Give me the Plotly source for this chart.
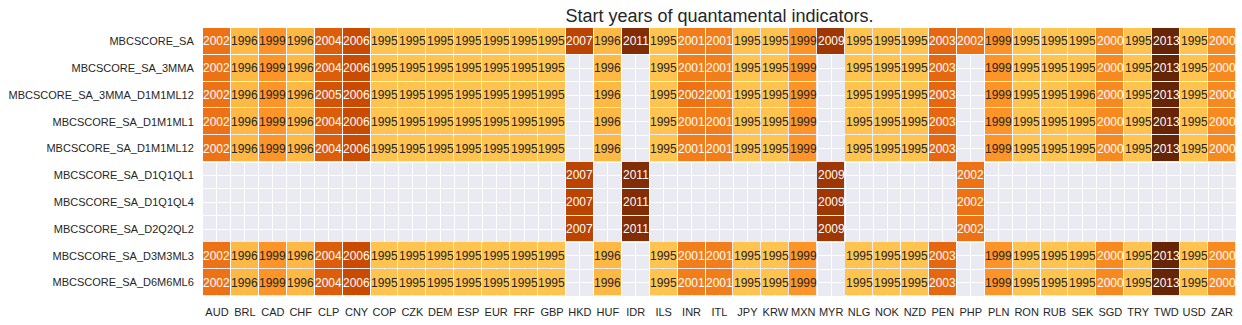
import plotly.graph_objects as go

currencies = ["AUD", "BRL", "CAD", "CHF", "CLP", "CNY", "COP", "CZK", "DEM", "ESP", "EUR", "FRF", "GBP",
              "HKD", "HUF", "IDR", "ILS", "INR", "ITL", "JPY", "KRW", "MXN", "MYR", "NLG", "NOK", "NZD",
              "PEN", "PHP", "PLN", "RON", "RUB", "SEK", "SGD", "TRY", "TWD", "USD", "ZAR"]

indicators = ["MBCSCORE_SA", "MBCSCORE_SA_3MMA", "MBCSCORE_SA_3MMA_D1M1ML12", "MBCSCORE_SA_D1M1ML1",
              "MBCSCORE_SA_D1M1ML12", "MBCSCORE_SA_D1Q1QL1", "MBCSCORE_SA_D1Q1QL4", "MBCSCORE_SA_D2Q2QL2",
              "MBCSCORE_SA_D3M3ML3", "MBCSCORE_SA_D6M6ML6"]

N = None
mbcscore_sa = [2002, 1996, 1999, 1996, 2004, 2006, 1995, 1995, 1995, 1995, 1995, 1995, 1995,
               2007, 1996, 2011, 1995, 2001, 2001, 1995, 1995, 1999, 2009, 1995, 1995, 1995,
               2003, 2002, 1999, 1995, 1995, 1995, 2000, 1995, 2013, 1995, 2000]
mbcscore_sa_3mma = [2002, 1996, 1999, 1996, 2004, 2006, 1995, 1995, 1995, 1995, 1995, 1995, 1995,
                    N, 1996, N, 1995, 2001, 2001, 1995, 1995, 1999, N, 1995, 1995, 1995,
                    2003, N, 1999, 1995, 1995, 1995, 2000, 1995, 2013, 1995, 2000]
mbcscore_sa_3mma_d1m1ml12 = [2002, 1996, 1999, 1996, 2005, 2006, 1995, 1995, 1995, 1995, 1995, 1995, 1995,
                             N, 1996, N, 1995, 2002, 2001, 1995, 1995, 1999, N, 1995, 1995, 1995,
                             2003, N, 1999, 1995, 1995, 1996, 2000, 1995, 2013, 1995, 2000]
mbcscore_sa_d1m1ml1 = [2002, 1996, 1999, 1996, 2004, 2006, 1995, 1995, 1995, 1995, 1995, 1995, 1995,
                       N, 1996, N, 1995, 2001, 2001, 1995, 1995, 1999, N, 1995, 1995, 1995,
                       2003, N, 1999, 1995, 1995, 1995, 2000, 1995, 2013, 1995, 2000]
mbcscore_sa_d1m1ml12 = [2002, 1996, 1999, 1996, 2004, 2006, 1995, 1995, 1995, 1995, 1995, 1995, 1995,
                        N, 1996, N, 1995, 2001, 2001, 1995, 1995, 1999, N, 1995, 1995, 1995,
                        2003, N, 1999, 1995, 1995, 1995, 2000, 1995, 2013, 1995, 2000]
mbcscore_sa_d1q1ql1 = [N, N, N, N, N, N, N, N, N, N, N, N, N,
                       2007, N, 2011, N, N, N, N, N, N, 2009, N, N, N,
                       N, 2002, N, N, N, N, N, N, N, N, N]
mbcscore_sa_d1q1ql4 = [N, N, N, N, N, N, N, N, N, N, N, N, N,
                       2007, N, 2011, N, N, N, N, N, N, 2009, N, N, N,
                       N, 2002, N, N, N, N, N, N, N, N, N]
mbcscore_sa_d2q2ql2 = [N, N, N, N, N, N, N, N, N, N, N, N, N,
                       2007, N, 2011, N, N, N, N, N, N, 2009, N, N, N,
                       N, 2002, N, N, N, N, N, N, N, N, N]
mbcscore_sa_d3m3ml3 = [2002, 1996, 1999, 1996, 2004, 2006, 1995, 1995, 1995, 1995, 1995, 1995, 1995,
                       N, 1996, N, 1995, 2001, 2001, 1995, 1995, 1999, N, 1995, 1995, 1995,
                       2003, N, 1999, 1995, 1995, 1995, 2000, 1995, 2013, 1995, 2000]
mbcscore_sa_d6m6ml6 = [2002, 1996, 1999, 1996, 2004, 2006, 1995, 1995, 1995, 1995, 1995, 1995, 1995,
                       N, 1996, N, 1995, 2001, 2001, 1995, 1995, 1999, N, 1995, 1995, 1995,
                       2003, N, 1999, 1995, 1995, 1995, 2000, 1995, 2013, 1995, 2000]

z = [mbcscore_sa, mbcscore_sa_3mma, mbcscore_sa_3mma_d1m1ml12, mbcscore_sa_d1m1ml1, mbcscore_sa_d1m1ml12,
     mbcscore_sa_d1q1ql1, mbcscore_sa_d1q1ql4, mbcscore_sa_d2q2ql2, mbcscore_sa_d3m3ml3, mbcscore_sa_d6m6ml6]

ylorbr = ["#ffffe5", "#fff7bc", "#fee391", "#fec44f", "#fe9929", "#ec7014", "#cc4c02", "#993404", "#662506"]
colorscale = [[i / (len(ylorbr) - 1), c] for i, c in enumerate(ylorbr)]
color_min, color_max = 1984.2, 2013

xs = list(range(len(currencies)))
ys = list(range(len(indicators)))

fig = go.Figure(go.Heatmap(
    z=z, x=xs, y=ys, colorscale=colorscale, zmin=color_min, zmax=color_max,
    showscale=False, xgap=1, ygap=1, hoverongaps=False,
))

font_family = "Liberation Sans, Arial, sans-serif"
annotations = []
for i, row in enumerate(z):
    for j, v in enumerate(row):
        if v is None:
            continue
        annotations.append(dict(
            x=j, y=i, xref="x", yref="y", text=str(v), showarrow=False,
            font=dict(size=12, family=font_family, color="#ffffff" if v >= 2000 else "#262626"),
        ))

fig.update_layout(
    width=1242, height=325,
    margin=dict(l=203, r=6, t=28, b=29),
    paper_bgcolor="white", plot_bgcolor="#EAEAF2",
    font=dict(family=font_family, color="#262626", size=11),
    title=dict(text="Start years of quantamental indicators.", x=(203 + 1236) / 2 / 1242, xanchor="center",
               y=1 - 16 / 325, yanchor="middle", font=dict(size=18, color="#262626")),
    annotations=annotations,
)
fig.update_xaxes(
    tickmode="array", tickvals=xs, ticktext=currencies, range=[-0.5, len(currencies) - 0.5],
    showgrid=True, gridcolor="white", gridwidth=1, zeroline=False, showline=False,
    ticks="outside", ticklen=6, tickcolor="rgba(0,0,0,0)",
    minor=dict(tickmode="linear", tick0=-0.5, dtick=1, showgrid=True, gridcolor="white", gridwidth=1, ticks=""),
    tickfont=dict(size=11),
)
fig.update_yaxes(
    tickmode="array", tickvals=ys, ticktext=indicators, range=[len(indicators) - 0.5, -0.5],
    showgrid=True, gridcolor="white", gridwidth=1, zeroline=False, showline=False,
    ticks="outside", ticklen=6, tickcolor="rgba(0,0,0,0)",
    minor=dict(tickmode="linear", tick0=-0.5, dtick=1, showgrid=True, gridcolor="white", gridwidth=1, ticks=""),
    tickfont=dict(size=11),
)

fig.write_html("out.html")
